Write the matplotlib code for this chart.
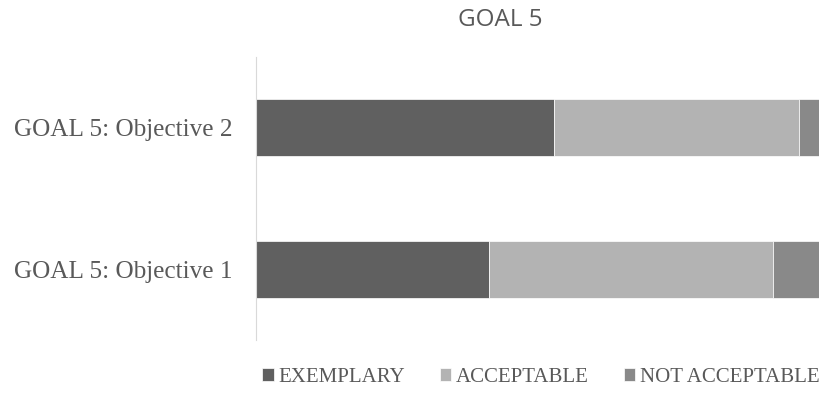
import matplotlib.pyplot as plt
import numpy as np

categories = ["GOAL 5: Objective 1", "GOAL 5: Objective 2"]
exemplary = [41.3, 53.0]
acceptable = [50.5, 43.4]
not_acceptable = [8.2, 3.6]
series_names = ["EXEMPLARY", "ACCEPTABLE", "NOT ACCEPTABLE"]
colors = ["#606060", "#b3b3b3", "#898989"]

fig = plt.figure(figsize=(8.25, 3.93), dpi=100)
ax = fig.add_axes([0.3103, 0.135, 0.6824, 0.72])

y = np.arange(len(categories))
left = np.zeros(len(categories))
for vals, name, c in zip([exemplary, acceptable, not_acceptable], series_names, colors):
    ax.barh(y, vals, left=left, height=0.4, color=c, label=name,
            edgecolor="white", linewidth=0.5)
    left += np.array(vals)

ax.set_xlim(0, 100)
ax.set_ylim(-0.5, 1.5)
ax.set_yticks(y)
ax.set_yticklabels(categories, family="Liberation Serif", fontsize=18.2, color="#595959")
ax.tick_params(axis="y", length=0, pad=17)
ax.set_xticks([])
for s in ["top", "right", "bottom"]:
    ax.spines[s].set_visible(False)
ax.spines["left"].set_color("#d9d9d9")

fig.text(0.606, 0.948, "GOAL 5", ha="center", va="center", fontsize=17.5,
         family="Open Sans", color="#595959")

leg = fig.legend(loc="center", bbox_to_anchor=(0.6555, 0.04), ncol=3, frameon=False,
                 prop={"family": "Liberation Serif", "size": 15},
                 handlelength=0.55, handleheight=0.55, handletextpad=0.2, columnspacing=1.7)
for t in leg.get_texts():
    t.set_color("#595959")

fig.savefig("out.png", dpi=100)
